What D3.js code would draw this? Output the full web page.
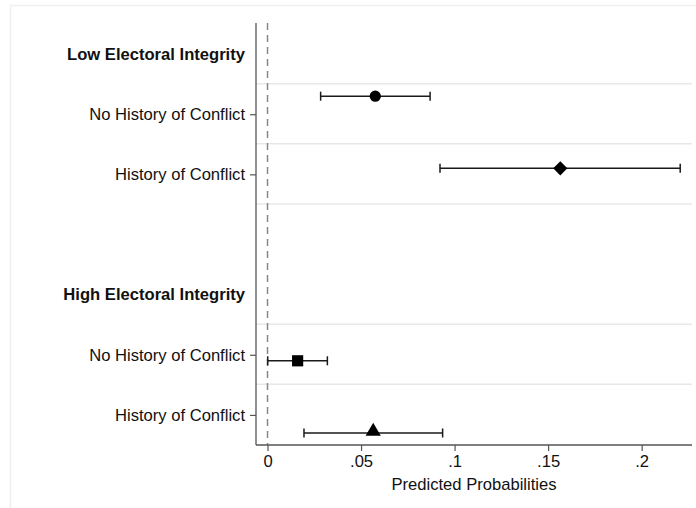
<!DOCTYPE html>
<html><head><meta charset="utf-8">
<script src="https://cdn.jsdelivr.net/npm/d3@7"></script>
<style>body{margin:0;background:#fff;}svg{display:block;font-family:"Liberation Sans",Arial,sans-serif;}</style>
</head><body><svg id="c" width="696" height="508"></svg>
<script>
// rows (top to bottom): headers and categories
const rowLabels = ["Low Electoral Integrity","No History of Conflict","History of Conflict","","High Electoral Integrity","No History of Conflict","History of Conflict"];
const rowIsHeader = [true,false,false,false,true,false,false];
// estimates, one per model, each on its own row
const models = ["circle","diamond","square","triangle"];
const modelRow = [2,3,6,7];
const modelOffset = [-0.3,-0.1,0.1,0.3];
const estimates = [0.0576,0.1565,0.0161,0.0565];
const ciLow = [0.0284,0.0922,0.0001,0.0195];
const ciHigh = [0.0869,0.2206,0.0320,0.0936];
const xTicks = [0,0.05,0.1,0.15,0.2];
const xTickLabels = ["0",".05",".1",".15",".2"];
const gridRows = [1.5,2.5,3.5,5.5,6.5];

const FS = 16.6;
const svg = d3.select("#c");
const L=256,R=692,T=24,B=445;
svg.append("rect").attr("x",10.5).attr("y",5.5).attr("width",700).attr("height",520)
  .attr("fill","none").attr("stroke","#efefef").attr("stroke-width",1.5);

const x = d3.scaleLinear().domain([-0.00615,0.2269]).range([L,R]);
const y = d3.scaleLinear().domain([0.5,7.5]).range([T,B]);

// grid
svg.append("g").selectAll("line").data(gridRows).join("line")
  .attr("x1",L).attr("x2",R).attr("y1",d=>y(d)-0.5).attr("y2",d=>y(d)-0.5)
  .attr("stroke","#e8e8e8").attr("stroke-width",1.5);

// zero reference line
svg.append("line").attr("x1",x(0)).attr("x2",x(0)).attr("y1",T-1).attr("y2",B)
  .attr("stroke","#888").attr("stroke-width",1.5).attr("stroke-dasharray","7,5");

// y axis
const rows = rowLabels.map((t,i)=>({t,pos:i+1,h:rowIsHeader[i]})).filter(d=>d.t!=="");
const yAxis = d3.axisLeft(y).tickValues(rows.filter(d=>!d.h).map(d=>d.pos))
  .tickFormat(v=>rowLabels[v-1]).tickSize(6).tickPadding(5).tickSizeOuter(0);
const gy = svg.append("g").attr("transform",`translate(${L},0)`).call(yAxis);
gy.select(".domain").attr("stroke","#555").attr("stroke-width",1.3).attr("d",`M0,${T-1}V${B}`);
gy.selectAll(".tick line").attr("stroke","#555").attr("stroke-width",1.2);
gy.selectAll(".tick text").attr("font-size",FS).attr("fill","#111").attr("font-family","Liberation Sans, Arial, sans-serif");
// headers
svg.append("g").selectAll("text").data(rows.filter(d=>d.h)).join("text")
  .attr("x",L-11).attr("y",d=>y(d.pos)).attr("dy","0.35em").attr("text-anchor","end")
  .attr("font-size",FS).attr("font-weight","bold").attr("fill","#111").text(d=>d.t);

// x axis
const xAxis = d3.axisBottom(x).tickValues(xTicks).tickFormat((d,i)=>xTickLabels[i]).tickSize(6).tickPadding(4).tickSizeOuter(0);
const gx = svg.append("g").attr("transform",`translate(0,${B})`).call(xAxis);
gx.select(".domain").attr("stroke","#555").attr("stroke-width",1.3).attr("d",`M${L},0H${R}`);
gx.selectAll(".tick line").attr("stroke","#555").attr("stroke-width",1.2);
gx.selectAll(".tick text").attr("font-size",FS).attr("fill","#111").attr("font-family","Liberation Sans, Arial, sans-serif");
svg.append("text").attr("x",(L+R)/2).attr("y",490).attr("text-anchor","middle")
  .attr("font-size",FS).attr("fill","#111").text("Predicted Probabilities");

// estimates
const data = models.map((m,i)=>({m,yv:modelRow[i]+modelOffset[i],est:estimates[i],lo:ciLow[i],hi:ciHigh[i]}));
const g = svg.append("g");
data.forEach(d=>{
  const yy=y(d.yv);
  g.append("line").attr("x1",x(d.lo)).attr("x2",x(d.hi)).attr("y1",yy).attr("y2",yy).attr("stroke","#1a1a1a").attr("stroke-width",1.5);
  [d.lo,d.hi].forEach(v=>g.append("line").attr("x1",x(v)).attr("x2",x(v)).attr("y1",yy-4.5).attr("y2",yy+4.5).attr("stroke","#1a1a1a").attr("stroke-width",1.5));
  const sym = {circle:d3.symbolCircle,diamond:d3.symbolSquare,square:d3.symbolSquare,triangle:d3.symbolTriangle}[d.m];
  const size = {circle:100,diamond:100,square:125,triangle:100}[d.m];
  let tr = `translate(${x(d.est)},${yy})`;
  if(d.m==="diamond") tr += " rotate(45)";
  if(d.m==="triangle") tr = `translate(${x(d.est)},${yy-1.5})`;
  g.append("path").attr("d",d3.symbol().type(sym).size(size)()).attr("transform",tr).attr("fill","#000");
});
</script></body></html>
